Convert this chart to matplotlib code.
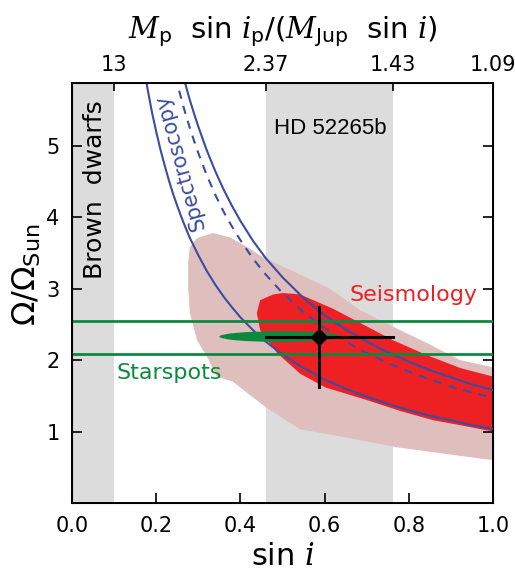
import numpy as np
import matplotlib
matplotlib.use("Agg")
import matplotlib.pyplot as plt
from matplotlib.patches import Polygon, Ellipse

plt.rcParams['font.family'] = ['DejaVu Sans']
plt.rcParams['mathtext.fontset'] = 'custom'
plt.rcParams['mathtext.rm'] = 'DejaVu Sans'
plt.rcParams['mathtext.it'] = 'DejaVu Serif:italic'

# shaded ranges in sin i
brown_dwarf_band = [0.0, 0.1]
hd_band = [0.46, 0.762]

# top axis (planet mass) ticks
top_tick_pos = [0.1, 0.46, 0.762, 1.0]
top_tick_labels = ['13', '2.37', '1.43', '1.09']

# seismology, outer (light) region: sin i, Omega
seis_outer_x = [0.276, 0.28, 0.297, 0.335, 0.375, 0.42, 0.454, 0.534, 0.613, 0.684, 0.762, 0.843,
                0.922, 1.0, 1.0, 0.922, 0.772, 0.613, 0.542, 0.463, 0.423, 0.382, 0.344,
                0.325, 0.297, 0.28, 0.276]
seis_outer_y = [3.38, 3.58, 3.71, 3.78, 3.72, 3.57, 3.44, 3.22, 3.00, 2.70, 2.47, 2.24,
                2.00, 1.90, 0.60, 0.66, 0.78, 0.96, 1.03, 1.33, 1.51, 1.70, 1.77,
                2.00, 2.28, 2.66, 3.00]

# seismology, inner (red) region
seis_inner_x = [0.439, 0.447, 0.478, 0.501, 0.542, 0.62, 0.701, 0.762, 0.843, 0.922, 1.0,
                1.0, 0.922, 0.857, 0.779, 0.701, 0.601, 0.542, 0.487, 0.447]
seis_inner_y = [2.66, 2.84, 2.92, 2.94, 2.92, 2.72, 2.47, 2.28, 2.07, 1.89, 1.77,
                1.00, 1.09, 1.16, 1.29, 1.44, 1.62, 1.81, 2.10, 2.42]

# spectroscopy curves
spec_x = [0.16, 0.17, 0.18, 0.19, 0.2, 0.21, 0.22, 0.23, 0.24, 0.25, 0.26, 0.27, 0.28, 0.29,
          0.3, 0.32, 0.34, 0.36, 0.38, 0.4, 0.43, 0.46, 0.5, 0.55, 0.6, 0.65, 0.7, 0.75,
          0.8, 0.85, 0.9, 0.95, 1.0]
spec_low = [6.50, 6.12, 5.78, 5.47, 5.20, 4.95, 4.73, 4.52, 4.33, 4.16, 4.00, 3.85, 3.71, 3.59,
            3.47, 3.25, 3.06, 2.89, 2.74, 2.60, 2.42, 2.26, 2.08, 1.89, 1.73, 1.60, 1.49, 1.39,
            1.30, 1.22, 1.16, 1.09, 1.04]
spec_mid = [9.19, 8.65, 8.17, 7.74, 7.35, 7.00, 6.68, 6.39, 6.13, 5.88, 5.65, 5.44, 5.25, 5.07,
            4.90, 4.59, 4.32, 4.08, 3.87, 3.68, 3.42, 3.20, 2.94, 2.67, 2.45, 2.26, 2.10, 1.96,
            1.84, 1.73, 1.63, 1.55, 1.47]
spec_high = [9.88, 9.29, 8.78, 8.32, 7.90, 7.52, 7.18, 6.87, 6.58, 6.32, 6.08, 5.85, 5.64, 5.45,
             5.27, 4.94, 4.65, 4.39, 4.16, 3.95, 3.67, 3.43, 3.16, 2.87, 2.63, 2.43, 2.26, 2.11,
             1.98, 1.86, 1.76, 1.66, 1.58]

# starspots
spot_limits = [2.09, 2.55]
spot_blob = (0.495, 2.33, 0.29, 0.15)   # centre x, centre y, width, height

# combined estimate
best_x, best_y = 0.587, 2.32
best_x_range = [0.46, 0.762]
best_y_range = [1.63, 2.75]

blue = '#3b4da0'
green = '#0b8a3e'
red = '#ed2024'
pink = '#dfbebe'
grey = '#dcdcdc'

fig = plt.figure(figsize=(5.15, 5.75), dpi=100)
ax = fig.add_axes([0.1398, 0.1252, 0.8175, 0.7304])

ax.axvspan(*brown_dwarf_band, color=grey, lw=0, zorder=0)
ax.axvspan(*hd_band, color=grey, lw=0, zorder=0)

ax.add_patch(Polygon(np.column_stack([seis_outer_x, seis_outer_y]), closed=True,
                     fc=pink, ec='none', zorder=1))
ax.add_patch(Polygon(np.column_stack([seis_inner_x, seis_inner_y]), closed=True,
                     fc=red, ec='none', zorder=2))

ax.plot(spec_x, spec_low, color=blue, lw=1.5, zorder=3)
ax.plot(spec_x, spec_high, color=blue, lw=1.5, zorder=3)
ax.plot(spec_x, spec_mid, color=blue, lw=1.5, ls=(0, (4, 3.5)), zorder=3)

for yv in spot_limits:
    ax.axhline(yv, color=green, lw=2.0, zorder=4)
ax.add_patch(Ellipse(spot_blob[:2], spot_blob[2], spot_blob[3], fc=green, ec='none', zorder=4))

ax.plot(best_x_range, [best_y, best_y], color='black', lw=2.2, zorder=5)
ax.plot([best_x, best_x], best_y_range, color='black', lw=2.2, zorder=5)
ax.plot(best_x, best_y, marker='D', ms=8, color='black', zorder=6)

ax.text(0.055, 4.39, 'Brown  dwarfs', rotation=90, ha='center', va='center', fontsize=18)
ax.text(0.613, 5.24, 'HD 52265b', ha='center', va='center', fontsize=16,
        family='Liberation Sans')
ax.text(0.256, 4.78, 'Spectroscopy', rotation=105.5, ha='center', va='center',
        fontsize=15, color=blue, rotation_mode='anchor')
ax.text(0.81, 2.91, 'Seismology', ha='center', va='center', fontsize=16, color=red)
ax.text(0.23, 1.82, 'Starspots', ha='center', va='center', fontsize=16, color=green)

ax.set_xlim(0, 1)
ax.set_ylim(0, 5.88)
ax.set_xticks([0.0, 0.2, 0.4, 0.6, 0.8, 1.0])
ax.set_xticklabels(['0.0', '0.2', '0.4', '0.6', '0.8', '1.0'])
ax.set_yticks([1, 2, 3, 4, 5])
ax.tick_params(direction='in', length=7, width=1.2, labelsize=15, right=True, pad=9)
for s in ax.spines.values():
    s.set_linewidth(1.4)

ax.set_xlabel(r'$\mathrm{sin}\ i$', fontsize=22, labelpad=5)
ax.set_ylabel(r'$\Omega/\Omega_{\mathrm{Sun}}$', fontsize=23)
ax.yaxis.set_label_coords(-0.069, 0.543)

ax2 = ax.twiny()
ax2.set_xlim(0, 1)
ax2.set_xticks(top_tick_pos)
ax2.set_xticklabels(top_tick_labels)
ax2.tick_params(direction='in', length=6, width=1.2, labelsize=15, pad=6)
ax2.set_xlabel(r'$M_{\mathrm{p}}\ \ \mathrm{sin}\ i_{\mathrm{p}}/(M_{\mathrm{Jup}}\ \ \mathrm{sin}\ i)$',
               fontsize=21, labelpad=12)

fig.savefig('out.png', dpi=100)
